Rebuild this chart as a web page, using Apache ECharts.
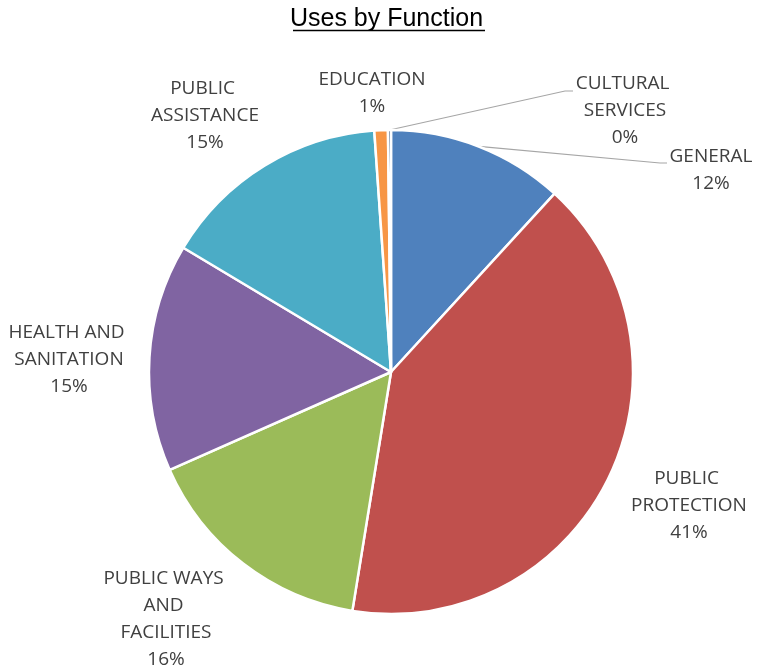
<!DOCTYPE html>
<html>
<head>
<meta charset="utf-8">
<script src="https://cdn.jsdelivr.net/npm/echarts@6/dist/echarts.min.js"></script>
<style>
html,body{margin:0;padding:0;background:#fff;}
#chart{width:773px;height:672px;}
</style>
</head>
<body>
<div id="chart"></div>
<script>
// ---- data ----
const categories = ['GENERAL', 'PUBLIC PROTECTION', 'PUBLIC WAYS AND FACILITIES', 'HEALTH AND SANITATION', 'PUBLIC ASSISTANCE', 'EDUCATION', 'CULTURAL SERVICES'];
const values = [11.8, 40.7, 15.8, 15.2, 15.3, 0.9, 0.2];
const titleText = 'Uses by Function';

// ---- layout / style (not data) ----
const colors = ['#4F81BD', '#C0504D', '#9BBB59', '#8064A2', '#4BACC6', '#F79646', '#2C4D75'];
const center = [391, 372];
const radius = 242;
// label block centers
const labelPos = [[711, 170], [689, 506], [166, 619], [69, 360], [205, 116], [372, 93], [625, 111]];
// leader line elbow and end (only where shown)
const leader = [[[660, 163], [667, 163]], null, null, null, null, null, [[565, 91], [573, 91]]];

const total = values.reduce((a, b) => a + b, 0);
function midPoint(i) {
  let cum = 0;
  for (let k = 0; k < i; k++) cum += values[k];
  const a = (cum + values[i] / 2) / total * Math.PI * 2;
  return [center[0] + radius * Math.sin(a), center[1] - radius * Math.cos(a)];
}

const chart = echarts.init(document.getElementById('chart'), null, {renderer: 'canvas'});
chart.setOption({
  animation: false,
  backgroundColor: '#fff',
  title: {
    text: titleText,
    left: 'center',
    top: 2,
    textStyle: {fontFamily: 'Liberation Sans', fontSize: 25, fontWeight: 'normal', color: '#000'}
  },
  graphic: [{
    type: 'line',
    shape: {x1: 293, y1: 30.5, x2: 485, y2: 30.5},
    style: {stroke: '#000', lineWidth: 1.5}
  }],
  series: [{
    type: 'pie',
    center: center,
    radius: radius,
    startAngle: 90,
    clockwise: true,
    avoidLabelOverlap: false,
    itemStyle: {borderColor: '#fff', borderWidth: 2.5},
    label: {
      show: true,
      position: 'outside',
      fontFamily: 'Open Sans',
      fontSize: 19,
      lineHeight: 27,
      color: '#404040',
      align: 'center',
      width: 130,
      overflow: 'break',
      formatter: p => p.name + '\n' + Math.round(p.percent) + '%'
    },
    labelLine: {show: false, lineStyle: {color: '#A6A6A6', width: 1.2}},
    labelLayout: function (params) {
      const i = params.dataIndex;
      const res = {x: labelPos[i][0], y: labelPos[i][1], align: 'center', verticalAlign: 'middle'};
      if (leader[i]) {
        res.labelLinePoints = [midPoint(i), leader[i][0], leader[i][1]];
      }
      return res;
    },
    data: categories.map((c, i) => ({
      name: c,
      value: values[i],
      itemStyle: {color: colors[i]},
      labelLine: {show: !!leader[i]}
    }))
  }]
});
</script>
</body>
</html>
